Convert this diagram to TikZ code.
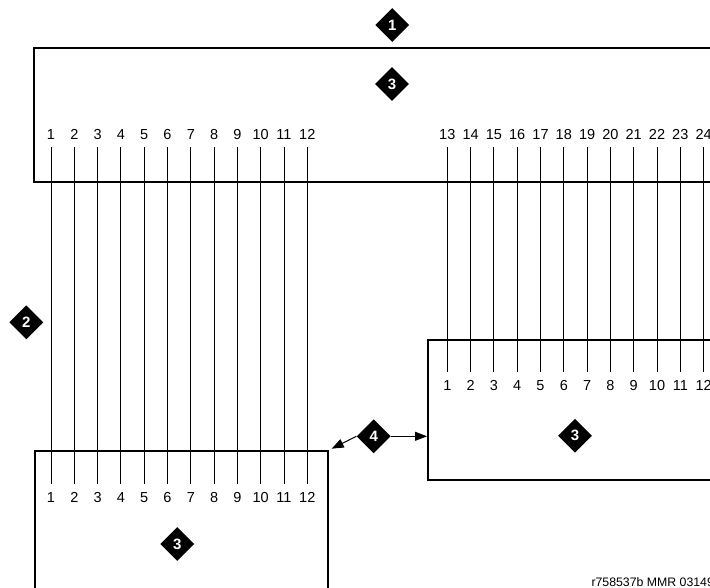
\documentclass[tikz,border=0pt]{standalone}
\usepackage{fontspec}
\setmainfont{Liberation Sans}
\usetikzlibrary{shapes.geometric,arrows.meta}
\begin{document}
\begin{tikzpicture}[x=1pt,y=-1pt,
  every node/.style={font=\fontsize{14.5}{17}\selectfont},
  frame/.style={draw,line width=2pt,anchor=north west,inner sep=0pt},
  num/.style={inner sep=0pt,text height=10.4pt,text depth=0pt,minimum height=26pt},
  badge/.style={diamond,fill=black,text=white,font=\fontsize{15}{17}\selectfont\bfseries,minimum width=34pt,minimum height=34pt,inner sep=0pt},
  wire/.style={line width=1pt},
  pointer/.style={line width=1pt,-{Triangle[length=12pt,width=9pt]}}]
\useasboundingbox (0,0) rectangle (710,588);
\clip (0,0) rectangle (710,588);
\node[frame,minimum width=720pt,minimum height=134pt] (shelf) at (33,47) {};
\node[frame,minimum width=293pt,minimum height=200pt] (panelA) at (34,450) {};
\node[frame,minimum width=320pt,minimum height=140pt] (panelB) at (427,339) {};
\foreach \i in {1,...,12} {
  \node[num] (t\i) at ({51+23.3*(\i-1)},134) {\i};
  \node[num] (a\i) at ({51+23.3*(\i-1)},497) {\i};
  \draw[wire] (t\i.south) -- (a\i.north);
}
\foreach \i in {13,...,24} {
  \pgfmathtruncatemacro\k{\i-12}
  \node[num] (t\i) at ({447.3+23.3*(\i-13)},134) {\i};
  \node[num] (b\k) at ({447.3+23.3*(\i-13)},385) {\k};
  \draw[wire] (t\i.south) -- (b\k.north);
}
\node[badge] (n1) at (392.3,25) {1};
\node[badge] (n2) at (26.3,322.3) {2};
\node[badge] (n3top) at (392,84) {3};
\node[badge] (n3a) at (177.3,544) {3};
\node[badge] (n3b) at (575,435.7) {3};
\node[badge] (n4) at (373.7,436.3) {4};
\draw[pointer] (n4.east) -- (n4.east -| panelB.west);
\draw[pointer,shorten >=3pt] (n4.west) -- (panelA.north east);
\node[font=\fontsize{12.3}{14}\selectfont,anchor=base west] (tag) at (588,586.5) {r758537b MMR 03149};
\end{tikzpicture}
\end{document}
